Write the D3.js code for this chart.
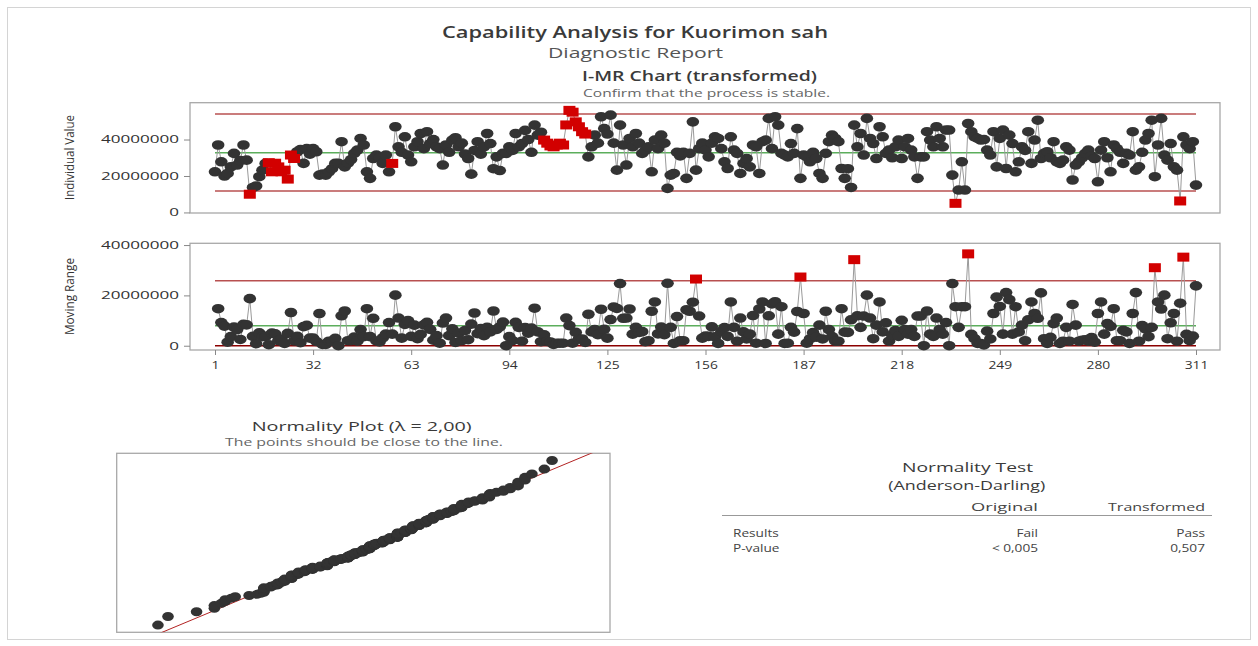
<!DOCTYPE html>
<html>
<head>
<meta charset="utf-8">
<script src="https://cdn.jsdelivr.net/npm/d3@7"></script>
<style>
  body { margin: 0; background: #fff; }
  svg { display: block; font-family: "Open Sans", "Noto Sans", sans-serif; }
</style>
</head>
<body>
<script>
// ---------- DATA (values in millions) ----------
const individualM = [
  22.3, 37.0, 27.8, 20.0, 21.4, 25.0, 32.4, 26.0, 28.5, 37.0,
  28.7, 10.0, 13.7, 14.5, 19.6, 23.2, 26.9, 27.3, 22.3, 27.0,
  25.0, 22.3, 23.2, 18.3, 31.5, 29.6, 33.3, 34.5, 26.9, 35.0,
  32.0, 35.0, 33.3, 20.5, 21.0, 20.5, 22.3, 24.0, 26.9, 26.9,
  38.8, 25.0, 27.0, 29.0, 32.4, 34.2, 40.6, 37.0, 22.3, 18.7,
  29.6, 31.5, 30.0, 26.9, 31.5, 22.3, 26.9, 47.0, 36.0, 33.0,
  41.5, 31.5, 27.8, 36.0, 38.8, 43.3, 35.0, 44.3, 37.8, 40.0,
  36.0, 35.0, 26.0, 37.0, 33.0, 39.7, 41.0, 36.0, 38.0, 32.0,
  29.6, 21.0, 34.0, 38.8, 32.0, 36.0, 43.3, 37.8, 24.0, 30.5,
  23.0, 32.4, 32.4, 36.0, 34.0, 43.3, 36.0, 37.8, 45.0, 40.0,
  33.0, 47.9, 42.4, 44.0, 39.7, 38.0, 36.5, 36.0, 37.0, 38.0,
  37.0, 48.0, 56.0, 55.0, 49.7, 47.0, 44.3, 43.0, 30.5, 36.0,
  42.4, 38.0, 52.5, 46.0, 43.0, 53.4, 38.0, 23.2, 47.9, 37.0,
  26.0, 40.6, 36.0, 43.3, 38.0, 32.4, 34.0, 36.0, 22.3, 39.7,
  35.0, 42.4, 38.0, 13.2, 20.5, 21.4, 33.0, 31.0, 33.0, 18.7,
  32.4, 49.7, 23.2, 35.0, 38.0, 34.2, 30.5, 38.0, 41.5, 40.6,
  35.0, 27.8, 24.1, 41.5, 34.2, 32.4, 21.4, 26.9, 29.6, 25.0,
  37.0, 36.0, 21.4, 38.8, 39.7, 51.6, 35.0, 52.5, 47.9, 32.4,
  31.5, 30.5, 37.8, 32.4, 46.0, 18.7, 31.5, 30.5, 27.8, 33.0,
  29.6, 21.4, 18.7, 32.4, 38.8, 42.4, 40.6, 38.8, 24.1, 18.7,
  24.0, 13.7, 47.9, 36.0, 43.3, 31.5, 51.6, 40.6, 37.8, 29.6,
  47.0, 41.5, 32.4, 34.2, 30.0, 36.0, 39.7, 29.6, 36.0, 40.6,
  34.2, 30.5, 18.7, 30.5, 30.5, 44.3, 39.7, 36.0, 47.0, 40.6,
  36.0, 45.2, 45.2, 20.5, 5.0, 12.3, 27.8, 12.3, 48.8, 44.3,
  41.5, 40.6, 39.7, 40.0, 34.2, 31.5, 44.3, 25.0, 40.6, 45.2,
  24.1, 42.4, 37.8, 22.3, 27.8, 36.0, 34.0, 44.3, 26.9, 39.7,
  50.6, 29.6, 32.4, 33.3, 30.0, 38.8, 27.8, 26.9, 28.7, 36.0,
  34.2, 17.8, 26.0, 27.8, 30.0, 32.4, 34.2, 31.0, 29.6, 16.8,
  34.2, 38.8, 30.0, 22.3, 37.0, 35.0, 33.0, 26.9, 32.4, 31.5,
  44.3, 23.2, 25.0, 33.0, 39.7, 43.3, 50.6, 19.6, 37.0, 51.6,
  31.5, 28.7, 37.8, 25.0, 23.2, 6.3, 41.5, 37.0, 35.0, 38.8,
  15.0
];
// observations flagged by the stability tests (1-based)
const flaggedI = [12, 18, 19, 20, 21, 22, 23, 24, 25, 26, 57,
  105, 106, 107, 108, 109, 110, 111, 112, 113, 114, 115, 116, 117, 118, 235, 306];
// control limits (millions)
const iLimits = { lcl: 11.7, cl: 32.8, ucl: 54.0 };
const mrLimits = { lcl: 0, cl: 7.9, ucl: 25.8 };
// axis ticks
const yTickValues = [0, 20, 40];
const yTickLabels = ["0", "20000000", "40000000"];
const xTickValues = [1, 32, 63, 94, 125, 156, 187, 218, 249, 280, 311];
// normality test table
const testHeader = ["Original", "Transformed"];
const testRows = [["Results", "Fail", "Pass"], ["P-value", "< 0,005", "0,507"]];

// ---------- DERIVED ----------
const iData = individualM.map((v, k) => ({ i: k + 1, v, red: flaggedI.includes(k + 1) || v > iLimits.ucl || v < iLimits.lcl }));
const mrData = [];
for (let k = 1; k < individualM.length; k++) {
  const v = Math.abs(individualM[k] - individualM[k - 1]);
  mrData.push({ i: k + 1, v, red: v > mrLimits.ucl });
}

// ---------- DRAW ----------
const W = 1258, H = 646;
const svg = d3.select("body").append("svg").attr("width", W).attr("height", H);
svg.append("rect").attr("width", W).attr("height", H).attr("fill", "#fff");
svg.append("rect").attr("x", 7.5).attr("y", 7.5).attr("width", 1243).attr("height", 632)
  .attr("fill", "none").attr("stroke", "#d4d4d4");

function txt(x, y, s, o) {
  const t = svg.append("text").attr("x", x).attr("y", y).text(s)
    .attr("font-size", o.size).attr("fill", o.fill || "#333")
    .attr("font-weight", o.weight || 400)
    .attr("text-anchor", o.anchor || "middle");
  if (o.len) t.attr("textLength", o.len).attr("lengthAdjust", "spacingAndGlyphs");
  if (o.stretch) {
    const nat = t.node().getComputedTextLength();
    t.attr("textLength", nat * o.stretch).attr("lengthAdjust", "spacingAndGlyphs");
  }
  if (o.rotate) t.attr("transform", `rotate(${o.rotate},${x},${y})`);
  return t;
}

// titles
txt(635, 38, "Capability Analysis for Kuorimon sah", { size: 16, weight: 600, len: 386, fill: "#3a3a3a" });
txt(635.5, 57.5, "Diagnostic Report", { size: 14, len: 175, fill: "#555" });
txt(699.5, 81, "I-MR Chart (transformed)", { size: 14, weight: 600, len: 235, fill: "#3a3a3a" });
txt(706.5, 97, "Confirm that the process is stable.", { size: 11, len: 247, fill: "#666" });

const x = d3.scaleLinear().domain([1, 311]).range([215, 1196]);
const yI = d3.scaleLinear().domain([-0.3, 60.2]).range([213, 102.7]);
const yMR = d3.scaleLinear().domain([-1.7, 40.7]).range([350, 243.3]);

function panel(yScale, data, lim, top, bottom, label, labelY, labelLen, lclColor) {
  svg.append("rect").attr("x", 190).attr("y", top).attr("width", 1030).attr("height", bottom - top)
    .attr("fill", "none").attr("stroke", "#a8a8a8").attr("stroke-width", 1.3);
  const ax = svg.append("g").attr("transform", "translate(190,0)")
    .call(d3.axisLeft(yScale).tickValues(yTickValues).tickFormat((d, k) => yTickLabels[k]).tickSize(6).tickPadding(5));
  ax.select(".domain").remove();
  ax.selectAll(".tick line").attr("stroke", "#888");
  ax.selectAll(".tick text").attr("font-size", 10.5).attr("fill", "#333")
    .attr("font-family", "Open Sans, sans-serif")
    .each(function (d, k) { d3.select(this).attr("textLength", yTickLabels[k].length * 9.75).attr("lengthAdjust", "spacingAndGlyphs"); });
  txt(74, labelY, label, { size: 12, len: labelLen, rotate: -90, fill: "#333" });
  const hl = (v, c, w) => svg.append("line").attr("x1", x(1)).attr("x2", x(311))
    .attr("y1", yScale(v)).attr("y2", yScale(v)).attr("stroke", c).attr("stroke-width", w);
  hl(lim.ucl, "#b85050", 1.5);
  hl(lim.lcl, lclColor, 1.5);
  hl(lim.cl, "#5cae5c", 1.5);
  svg.append("path").datum(data)
    .attr("d", d3.line().x(d => x(d.i)).y(d => yScale(d.v)))
    .attr("fill", "none").attr("stroke", "#9a9a9a").attr("stroke-width", 1);
  svg.append("g").selectAll("ellipse").data(data.filter(d => !d.red)).join("ellipse")
    .attr("cx", d => x(d.i)).attr("cy", d => yScale(d.v)).attr("rx", 6.3).attr("ry", 4.8)
    .attr("fill", "#333");
  svg.append("g").selectAll("rect").data(data.filter(d => d.red)).join("rect")
    .attr("x", d => x(d.i) - 6).attr("y", d => yScale(d.v) - 4.5).attr("width", 12).attr("height", 9)
    .attr("fill", "#d20000");
}

panel(yI, iData, iLimits, 102.7, 213, "Individual Value", 157.5, 85, "#b85050");
panel(yMR, mrData, mrLimits, 243.3, 350, "Moving Range", 296.5, 77, "#8b0000");

const xa = svg.append("g").attr("transform", "translate(0,350)")
  .call(d3.axisBottom(x).tickValues(xTickValues).tickSize(5).tickPadding(7));
xa.select(".domain").remove();
xa.selectAll(".tick line").attr("stroke", "#888");
xa.selectAll(".tick text").attr("font-size", 10.5).attr("fill", "#333")
  .attr("font-family", "Open Sans, sans-serif")
  .each(function (d) { d3.select(this).attr("textLength", String(d).length * 7.9).attr("lengthAdjust", "spacingAndGlyphs"); });

// ---------- Normality plot ----------
txt(361.7, 430.5, "Normality Plot (\u03bb = 2,00)", { size: 13.5, len: 220, fill: "#3a3a3a" });
txt(364, 446, "The points should be close to the line.", { size: 10.5, len: 278, fill: "#666" });
const nb = { x: 116.7, y: 453.3, w: 493.3, h: 179 };
svg.append("rect").attr("x", nb.x).attr("y", nb.y).attr("width", nb.w).attr("height", nb.h)
  .attr("fill", "none").attr("stroke", "#a8a8a8").attr("stroke-width", 1.3);
const xN = d3.scaleLinear().domain([-0.3, 63.5]).range([117, 610]);
const yN = d3.scaleLinear().domain([-3.09, 3.09]).range([632.3, 453.3]);

function normInv(p) {
  const a = [-3.969683028665376e+01, 2.209460984245205e+02, -2.759285104469687e+02, 1.383577518672690e+02, -3.066479806614716e+01, 2.506628277459239e+00];
  const b = [-5.447609879822406e+01, 1.615858368580409e+02, -1.556989798598866e+02, 6.680131188771972e+01, -1.328068155288572e+01];
  const c = [-7.784894002430293e-03, -3.223964580411365e-01, -2.400758277161838e+00, -2.549671348529212e+00, 4.374664141464968e+00, 2.938163982698783e+00];
  const d = [7.784695709041462e-03, 3.224671290700398e-01, 2.445134137142996e+00, 3.754408661907416e+00];
  const pl = 0.02425;
  let q, r;
  if (p < pl) { q = Math.sqrt(-2 * Math.log(p)); return (((((c[0] * q + c[1]) * q + c[2]) * q + c[3]) * q + c[4]) * q + c[5]) / ((((d[0] * q + d[1]) * q + d[2]) * q + d[3]) * q + 1); }
  if (p <= 1 - pl) { q = p - 0.5; r = q * q; return (((((a[0] * r + a[1]) * r + a[2]) * r + a[3]) * r + a[4]) * r + a[5]) * q / (((((b[0] * r + b[1]) * r + b[2]) * r + b[3]) * r + b[4]) * r + 1); }
  q = Math.sqrt(-2 * Math.log(1 - p)); return -(((((c[0] * q + c[1]) * q + c[2]) * q + c[3]) * q + c[4]) * q + c[5]) / ((((d[0] * q + d[1]) * q + d[2]) * q + d[3]) * q + 1);
}
const sorted = individualM.slice().sort((a, b) => a - b);
const n = sorted.length;
const probData = sorted.map((v, k) => ({ v, z: normInv((k + 1 - 0.3) / (n + 0.4)) }));
const mean = d3.mean(sorted), sd = d3.deviation(sorted);
svg.append("clipPath").attr("id", "nclip").append("rect")
  .attr("x", nb.x).attr("y", nb.y).attr("width", nb.w).attr("height", nb.h);
svg.append("line").attr("clip-path", "url(#nclip)")
  .attr("x1", xN(mean - 3.2 * sd)).attr("y1", yN(-3.2))
  .attr("x2", xN(mean + 3.2 * sd)).attr("y2", yN(3.2))
  .attr("stroke", "#b22222").attr("stroke-width", 1);
svg.append("g").selectAll("ellipse").data(probData).join("ellipse")
  .attr("cx", d => xN(d.v)).attr("cy", d => yN(d.z)).attr("rx", 5.8).attr("ry", 4.5).attr("fill", "#333");

// ---------- Normality test table ----------
txt(967.5, 471.5, "Normality Test", { size: 13.5, len: 131, fill: "#3a3a3a" });
txt(966.7, 489.5, "(Anderson-Darling)", { size: 13.5, len: 157, fill: "#3a3a3a" });
const colR = [1038, 1205];
const hdrLen = [67, 97];
testHeader.forEach((h, k) => txt(colR[k], 510.5, h, { size: 11, anchor: "end", len: hdrLen[k], fill: "#444" }));
svg.append("line").attr("x1", 722).attr("x2", 1212).attr("y1", 515.5).attr("y2", 515.5)
  .attr("stroke", "#999").attr("stroke-width", 1);
const rowY = [537, 552];
testRows.forEach((r, k) => {
  txt(733, rowY[k], r[0], { size: 10.5, anchor: "start", stretch: 1.3, fill: "#444" });
  txt(colR[0], rowY[k], r[1], { size: 10.5, anchor: "end", stretch: 1.3, fill: "#444" });
  txt(colR[1], rowY[k], r[2], { size: 10.5, anchor: "end", stretch: 1.3, fill: "#444" });
});
</script>
</body>
</html>
